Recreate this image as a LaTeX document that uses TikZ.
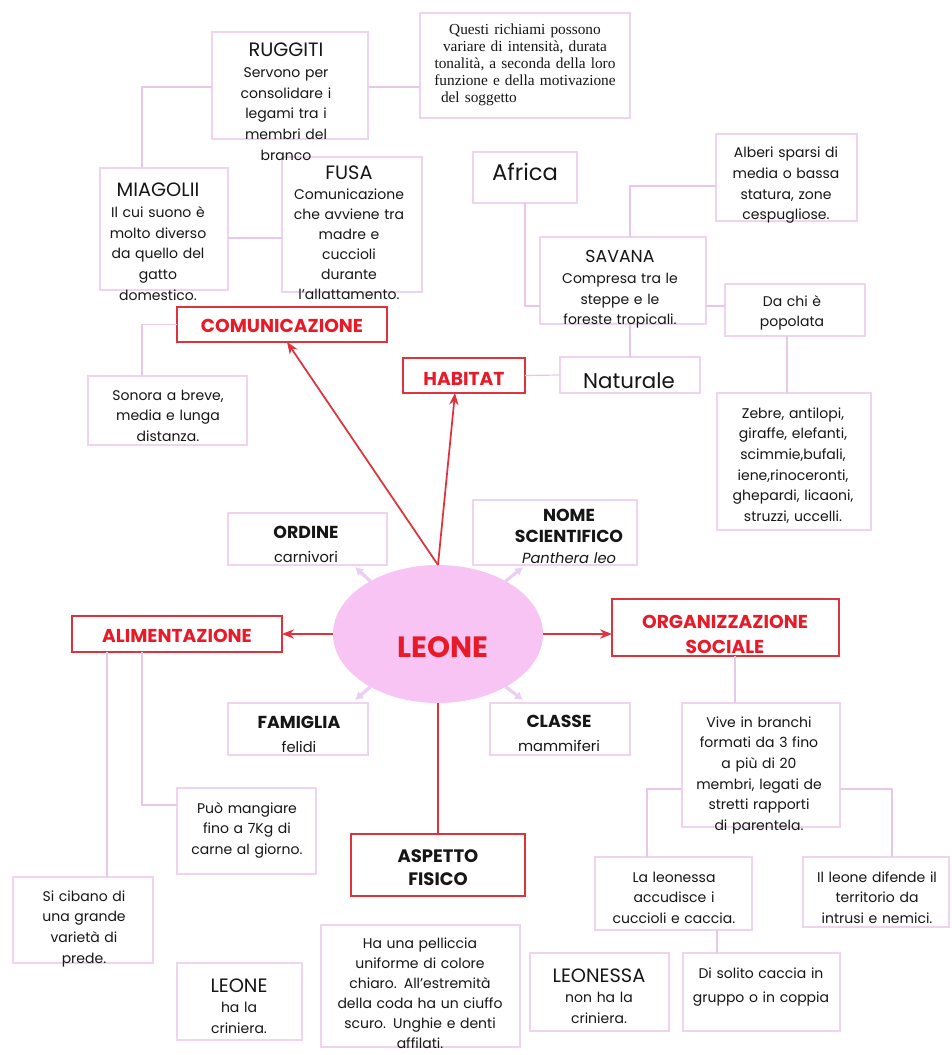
\documentclass[tikz,border=0pt]{standalone}
\usepackage{fontspec}
\setmainfont{Poppins}
\newfontfamily\qserif{Liberation Serif}
\usetikzlibrary{arrows.meta,fit,shapes.geometric,calc}
\definecolor{boxc}{RGB}{238,212,236}
\definecolor{linec}{RGB}{232,200,232}
\definecolor{redc}{RGB}{222,50,60}
\definecolor{redt}{RGB}{232,26,40}
\definecolor{ellc}{RGB}{247,196,243}
\definecolor{palec}{RGB}{236,206,242}
\definecolor{inkc}{RGB}{22,22,22}
\newcommand{\bodyf}{\fontsize{10.5}{15.5}\selectfont}
\newcommand{\ttlf}{\fontsize{14.5}{15.5}\selectfont}
\newcommand{\savf}{\fontsize{13}{15.5}\selectfont}
\newcommand{\redf}{\fontsize{14}{19}\selectfont\bfseries}
\newcommand{\aspf}{\fontsize{13.5}{17.3}\selectfont\bfseries}
\newcommand{\blkf}{\fontsize{13}{17}\selectfont\bfseries}
\newcommand{\subf}{\fontsize{11}{18}\selectfont}
\newcommand{\nomf}{\fontsize{11}{15.75}\selectfont}
\newcommand{\qf}{\qserif\fontsize{11.5}{12.6}\selectfont}
\tikzset{
  bx/.style={draw=boxc, line width=0.9pt, fill=white, inner sep=0pt, outer sep=0pt},
  rbx/.style={draw=redc, line width=1.5pt, fill=white, inner sep=0pt, outer sep=0pt},
  tx/.style={inner sep=0pt, outer sep=0pt, align=center, anchor=base, font=\bodyf, text=inkc},
  rtx/.style={tx, font=\redf, text=redt},
  conn/.style={draw=linec, line width=0.9pt},
  rarr/.style={draw=redc, line width=1.3pt, -{Stealth[length=9pt,width=7pt]}},
  rline/.style={draw=redc, line width=1.3pt},
  parr/.style={draw=palec, line width=2.4pt, -{Latex[length=6pt,width=7pt]}},
}
\begin{document}
\begin{tikzpicture}[x=0.75pt,y=-0.75pt]
\useasboundingbox (0,0) rectangle (951,1055);
\fill[white] (0,0) rectangle (951,1055);

% ---------- boxes ----------
\node[bx, fit={(420,13) (630,118)}] (q) {};
\node[bx, fit={(212,32) (368,139)}] (rug) {};
\node[bx, fit={(100,168) (228,290)}] (mia) {};
\node[bx, fit={(282,157) (422,292)}] (fus) {};
\node[rbx, fit={(177,307) (387,342)}] (com) {};
\node[bx, fit={(88,376) (247,445)}] (son) {};
\node[bx, fit={(473,152) (577,203)}] (afr) {};
\node[bx, fit={(716,134) (857,221)}] (alb) {};
\node[bx, fit={(540,237) (706,324)}] (sav) {};
\node[bx, fit={(725,284) (865,336)}] (dac) {};
\node[rbx, fit={(403,358) (525,393)}] (hab) {};
\node[bx, fit={(560,357) (700,393)}] (nat) {};
\node[bx, fit={(717,393) (871,530)}] (zeb) {};
\node[bx, fit={(228,513) (387,565)}] (ord) {};
\node[bx, fit={(473,500) (637,565)}] (nom) {};
\node[ellipse, fill=ellc, minimum width=157.5pt, minimum height=103.5pt, inner sep=0pt, outer sep=0pt] (leo) at (438,634) {};
\node[rbx, fit={(72,616) (282,652)}] (ali) {};
\node[rbx, fit={(612,599) (839,656)}] (org) {};
\node[bx, fit={(228,703) (368,755)}] (fam) {};
\node[bx, fit={(490,703) (630,755)}] (cla) {};
\node[bx, fit={(682,703) (840,827)}] (viv) {};
\node[bx, fit={(177,788) (316,874)}] (puo) {};
\node[rbx, fit={(351,834) (525,896)}] (asp) {};
\node[bx, fit={(13,877) (153,963)}] (sic) {};
\node[bx, fit={(595,857) (752,930)}] (lal) {};
\node[bx, fit={(803,857) (949,927)}] (ill) {};
\node[bx, fit={(177,963) (302,1040)}] (lbx) {};
\node[bx, fit={(321,925) (520,1047)}] (pel) {};
\node[bx, fit={(530,953) (669,1031)}] (lsa) {};
\node[bx, fit={(683,953) (840,1031)}] (dis) {};

% ---------- connector coordinates ----------
\coordinate (xA) at (142,0);
\coordinate (xC) at (107,0);
\coordinate (xS) at (630,0);
\coordinate (xZ) at (787,0);
\coordinate (xO) at (735,0);
\coordinate (xL) at (647,0);
\coordinate (xR) at (892,0);
\coordinate (xD) at (717,0);
\coordinate (yR) at (0,87);
\coordinate (yM) at (0,238);
\coordinate (yS) at (0,306);
\coordinate (yB) at (0,186);
\coordinate (yP) at (0,805);
\coordinate (yV) at (0,789);

% ---------- pale connectors ----------
\draw[conn] (rug.east |- yR) -- (q.west |- yR);
\draw[conn] (rug.west |- yR) -| (xA |- mia.north);
\draw[conn] (mia.east |- yM) -- (fus.west |- yM);
\draw[conn] (com.west) -| (xA |- son.north);
\draw[conn] (hab.east) -- (nat.west);
\draw[conn] (xS |- nat.north) -- (xS |- sav.south);
\draw[conn] (afr.south) |- (sav.west |- yS);
\draw[conn] (xS |- sav.north) |- (alb.west |- yB);
\draw[conn] (sav.east |- yS) -- (dac.west |- yS);
\draw[conn] (xZ |- dac.south) -- (xZ |- zeb.north);
\draw[conn] (xC |- ali.south) -- (xC |- sic.north);
\draw[conn] (xA |- ali.south) |- (puo.west |- yP);
\draw[conn] (xO |- org.south) -- (xO |- viv.north);
\draw[conn] (viv.west |- yV) -| (xL |- lal.north);
\draw[conn] (viv.east |- yV) -| (xR |- ill.north);
\draw[conn] (xD |- lal.south) -- (xD |- dis.north);

% ---------- red arrows ----------
\draw[rarr] (leo.north) -- ($(com.south)+(5,0)$);
\draw[rarr] (leo.north) -- ($(hab.south)+(-9,0)$);
\draw[rarr] (leo.west) -- (ali.east);
\draw[rarr] (leo.east) -- (leo.east -| org.west);
\draw[rline] (leo.south) -- (leo.south |- asp.north);

% ---------- pale arrows ----------
\coordinate (pO) at (355,567);
\coordinate (pN) at (523,567);
\coordinate (pF) at (355,700);
\coordinate (pC) at (523,700);
\draw[parr] (leo.142) -- (pO);
\draw[parr] (leo.38) -- (pN);
\draw[parr] (leo.218) -- (pF);
\draw[parr] (leo.322) -- (pC);

% ---------- texts ----------
\node[rtx] (comT) at (282,332) {COMUNICAZIONE};
\node[rtx] (habT) at (464,385) {HABITAT};
\node[rtx] (aliT) at (177,642) {ALIMENTAZIONE};
\node[rtx, text width=165pt, font=\fontsize{14}{18.75}\selectfont\bfseries] (orgT) at (725,628) {ORGANIZZAZIONE\\SOCIALE};
\node[tx, text width=120pt, font=\aspf] (aspT) at (438,862) {ASPETTO\\FISICO};
\node[tx, font=\qf, text width=150pt] (qT) at (525,35) {Questi richiami possono\\variare di intensità, durata\\tonalità, a seconda della loro\\funzione e della motivazione\\\makebox[\linewidth][l]{\hspace{12pt}del soggetto}};
\node[tx, text width=112pt] (rugT) at (286,57) {{\ttlf RUGGITI}\\Servono per\\consolidare i\\legami tra i\\membri del\\branco};
\node[tx, text width=96pt] (miaT) at (158,197) {{\ttlf MIAGOLII}\\Il cui suono è\\molto diverso\\da quello del\\gatto\\domestico.};
\node[tx, font=\fontsize{10.5}{14.9}\selectfont, text width=104pt] (fusT) at (349,180) {{\ttlf FUSA}\\Comunicazione\\che avviene tra\\madre e\\cuccioli\\durante\\l'allattamento.};
\node[tx, text width=112pt] (sonT) at (168,400) {Sonora a breve,\\media e lunga\\distanza.};
\node[tx, font=\fontsize{17}{20}\selectfont] (afrT) at (525,181) {Africa};
\node[tx, text width=100pt] (albT) at (786,158) {Alberi sparsi di\\media o bassa\\statura, zone\\cespugliose.};
\node[tx, text width=118pt] (savT) at (620,263) {{\savf SAVANA}\\Compresa tra le\\steppe e le\\foreste tropicali.};
\node[tx, text width=100pt] (dacT) at (792,306) {Da chi è\\popolata};
\node[tx, font=\fontsize{16}{19}\selectfont] (natT) at (629,388) {Naturale};
\node[tx, text width=110pt] (zebT) at (793,418) {Zebre, antilopi,\\giraffe, elefanti,\\scimmie,bufali,\\iene,rinoceronti,\\ghepardi, licaoni,\\struzzi, uccelli.};
\node[tx, font=\subf, text width=112pt] (ordT) at (306,538) {{\blkf ORDINE}\\carnivori};
\node[tx, font=\nomf, text width=118pt] (nomT) at (569,521) {{\blkf NOME}\\{\blkf SCIENTIFICO}\\\textit{Panthera leo}};
\node[tx, font=\fontsize{22}{26}\selectfont\bfseries, text=redt] (leoT) at (443,657) {LEONE};
\node[tx, font=\subf, text width=100pt] (famT) at (299,728) {{\blkf FAMIGLIA}\\felidi};
\node[tx, font=\subf, text width=100pt] (claT) at (559,727) {{\blkf CLASSE}\\mammiferi};
\node[tx, text width=112pt] (vivT) at (759,727) {Vive in branchi\\formati da 3 fino\\a più di 20\\membri, legati de\\stretti rapporti\\di parentela.};
\node[tx, text width=100pt] (puoT) at (247,813) {Può mangiare\\fino a 7Kg di\\carne al giorno.};
\node[tx, text width=100pt] (sicT) at (84,901) {Si cibano di\\una grande\\varietà di\\prede.};
\node[tx, text width=112pt] (lalT) at (674,882) {La leonessa\\accudisce i\\cuccioli e caccia.};
\node[tx, text width=106pt] (illT) at (877,882) {Il leone difende il\\territorio da\\intrusi e nemici.};
\node[tx, text width=88pt] (lbxT) at (239,992) {{\ttlf LEONE}\\ha la\\criniera.};
\node[tx, font=\fontsize{10.5}{15}\selectfont, text width=144pt] (pelT) at (420,948) {Ha una pelliccia\\uniforme di colore\\chiaro. All'estremità\\della coda ha un ciuffo\\scuro. Unghie e denti\\affilati.};
\node[tx, text width=98pt] (lsaT) at (599,982) {{\ttlf LEONESSA}\\non ha la\\criniera.};
\node[tx, text width=112pt] (disT) at (761,978) {Di solito caccia in\\[2.5pt]gruppo o in coppia};
\end{tikzpicture}
\end{document}
